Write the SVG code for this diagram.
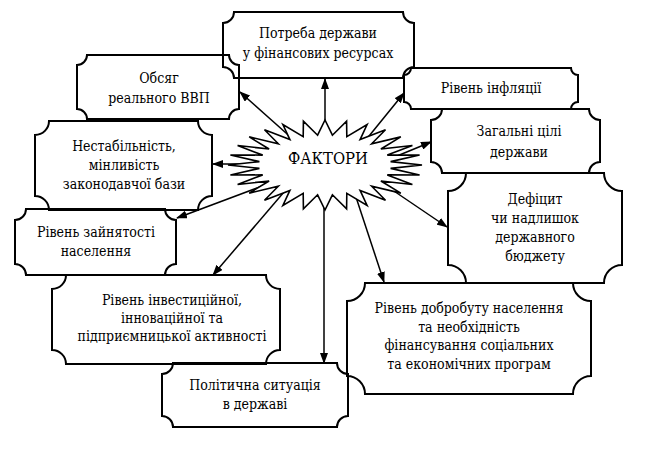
<svg xmlns="http://www.w3.org/2000/svg" width="648" height="449" viewBox="0 0 648 449">
<defs>
<style>
.box{fill:none;stroke:#000;stroke-width:2}
.star{fill:#fff;stroke:#000;stroke-width:1.6;stroke-linejoin:miter}
.conn line{stroke:#000;stroke-width:1.5}
text{font-family:"DejaVu Serif Condensed","DejaVu Serif",serif;font-stretch:condensed;font-size:14px;fill:#000;text-anchor:middle}
.big{font-size:16.5px}
</style>
<marker id="ah" markerUnits="userSpaceOnUse" markerWidth="11" markerHeight="8" refX="10" refY="4" orient="auto">
<path d="M0,0 L11,4 L0,8 Z" fill="#000"/>
</marker>
</defs>
<rect width="648" height="449" fill="#fff"/>
<g id="connectors" class="conn">
<line x1="325" y1="140" x2="325" y2="79" marker-end="url(#ah)"/>
<line x1="295" y1="141" x2="240" y2="92" marker-end="url(#ah)"/>
<line x1="262" y1="164" x2="213" y2="164" marker-end="url(#ah)"/>
<line x1="265" y1="185" x2="177" y2="218" marker-end="url(#ah)"/>
<line x1="290" y1="185" x2="213" y2="275" marker-end="url(#ah)"/>
<line x1="324" y1="190" x2="324" y2="363" marker-end="url(#ah)"/>
<line x1="365" y1="141" x2="404" y2="93" marker-end="url(#ah)"/>
<line x1="380" y1="163" x2="431" y2="142" marker-end="url(#ah)"/>
<line x1="385" y1="185" x2="447" y2="227" marker-end="url(#ah)"/>
<line x1="352" y1="185" x2="384" y2="282" marker-end="url(#ah)"/>
</g>
<g id="factors">
<path class="star" d="M422,165 L390.6,168.4 L419.6,175 L387.3,174.9 L412.4,184.5 L380.9,181 L400.8,193.1 L371.7,186.2 L385.5,200.2 L360.1,190.4 L367.1,205.5 L346.8,193.3 L346.6,208.9 L332.4,194.8 L325,210 L317.6,194.8 L303.4,208.9 L303.2,193.3 L282.9,205.5 L289.9,190.4 L264.5,200.2 L278.3,186.2 L249.2,193.1 L269.1,181 L237.6,184.5 L262.7,174.9 L230.4,175 L259.4,168.4 L228,165 L259.4,161.6 L230.4,155 L262.7,155.1 L237.6,145.5 L269.1,149 L249.2,136.9 L278.3,143.8 L264.5,129.8 L289.9,139.6 L282.9,124.5 L303.2,136.7 L303.4,121.1 L317.6,135.2 L325,120 L332.4,135.2 L346.6,121.1 L346.8,136.7 L367.1,124.5 L360.1,139.6 L385.5,129.8 L371.7,143.8 L400.8,136.9 L380.9,149 L412.4,145.5 L387.3,155.1 L419.6,155 L390.6,161.6 Z"/>
<text class="big" x="328" y="164">ФАКТОРИ</text>
</g>
<g id="need">
<path class="box" d="M234,12 H403 A11 11 0 0 0 414,23 V67 A11 11 0 0 0 403,78 H234 A11 11 0 0 0 223,67 V23 A11 11 0 0 0 234,12 Z"/>
<text x="318" y="38">Потреба держави</text>
<text x="318" y="58">у фінансових ресурсах</text>
</g>
<g id="gdp">
<path class="box" d="M87,55 H229 A10 10 0 0 0 239,65 V109 A10 10 0 0 0 229,119 H87 A10 10 0 0 0 77,109 V65 A10 10 0 0 0 87,55 Z"/>
<text x="159" y="83">Обсяг</text>
<text x="159" y="103">реального ВВП</text>
</g>
<g id="legislation">
<path class="box" d="M49,121 H198 A14 14 0 0 0 212,135 V196 A14 14 0 0 0 198,210 H49 A14 14 0 0 0 35,196 V135 A14 14 0 0 0 49,121 Z"/>
<text x="124" y="151">Нестабільність,</text>
<text x="124" y="170">мінливість</text>
<text x="124" y="189">законодавчої бази</text>
</g>
<g id="employment">
<path class="box" d="M26,209 H165 A11 11 0 0 0 176,220 V264 A11 11 0 0 0 165,275 H26 A11 11 0 0 0 15,264 V220 A11 11 0 0 0 26,209 Z"/>
<text x="96" y="237">Рівень зайнятості</text>
<text x="96" y="256">населення</text>
</g>
<g id="investment">
<path class="box" d="M66,275 H266 A14 14 0 0 0 280,289 V350 A14 14 0 0 0 266,364 H66 A14 14 0 0 0 52,350 V289 A14 14 0 0 0 66,275 Z"/>
<text x="172" y="305">Рівень інвестиційної,</text>
<text x="172" y="323">інноваційної та</text>
<text x="172" y="341">підприємницької активності</text>
</g>
<g id="politics">
<path class="box" d="M173,363 H337 A11 11 0 0 0 348,374 V416 A11 11 0 0 0 337,427 H173 A11 11 0 0 0 162,416 V374 A11 11 0 0 0 173,363 Z"/>
<text x="255" y="390">Політична ситуація</text>
<text x="255" y="409">в державі</text>
</g>
<g id="inflation">
<path class="box" d="M411,68 H571 A7 7 0 0 0 578,75 V102 A7 7 0 0 0 571,109 H411 A7 7 0 0 0 404,102 V75 A7 7 0 0 0 411,68 Z"/>
<text x="491" y="93">Рівень інфляції</text>
</g>
<g id="goals">
<path class="box" d="M442,109 H589 A11 11 0 0 0 600,120 V162 A11 11 0 0 0 589,173 H442 A11 11 0 0 0 431,162 V120 A11 11 0 0 0 442,109 Z"/>
<text x="519" y="136">Загальні цілі</text>
<text x="519" y="157">держави</text>
</g>
<g id="deficit">
<path class="box" d="M466,173 H604 A18 18 0 0 0 622,191 V265 A18 18 0 0 0 604,283 H466 A18 18 0 0 0 448,265 V191 A18 18 0 0 0 466,173 Z"/>
<text x="535" y="204">Дефіцит</text>
<text x="535" y="223">чи надлишок</text>
<text x="535" y="242">державного</text>
<text x="535" y="261">бюджету</text>
</g>
<g id="welfare">
<path class="box" d="M365,283 H573 A18 18 0 0 0 591,301 V376 A18 18 0 0 0 573,394 H365 A18 18 0 0 0 347,376 V301 A18 18 0 0 0 365,283 Z"/>
<text x="469" y="313">Рівень добробуту населення</text>
<text x="469" y="332">та необхідність</text>
<text x="469" y="350">фінансування соціальних</text>
<text x="469" y="369">та економічних програм</text>
</g>
</svg>
